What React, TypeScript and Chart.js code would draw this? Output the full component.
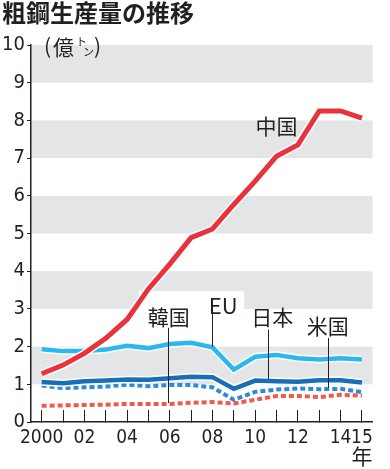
import React, { useEffect, useRef } from "react";
import { Chart, registerables } from "chart.js";
Chart.register(...registerables);

const years = [2000, 2001, 2002, 2003, 2004, 2005, 2006, 2007, 2008, 2009, 2010, 2011, 2012, 2013, 2014, 2015];
const china = [1.28, 1.51, 1.82, 2.22, 2.72, 3.53, 4.19, 4.89, 5.12, 5.77, 6.39, 7.05, 7.35, 8.25, 8.25, 8.06];
const eu = [1.93, 1.88, 1.88, 1.92, 2.02, 1.96, 2.07, 2.10, 1.98, 1.39, 1.73, 1.78, 1.69, 1.66, 1.69, 1.66];
const japan = [1.06, 1.03, 1.08, 1.10, 1.13, 1.12, 1.16, 1.20, 1.19, 0.88, 1.10, 1.08, 1.07, 1.11, 1.11, 1.05];
const usa = [0.97, 0.90, 0.92, 0.94, 0.99, 0.95, 0.98, 0.98, 0.92, 0.59, 0.80, 0.86, 0.89, 0.87, 0.88, 0.79];
const korea = [0.43, 0.44, 0.45, 0.46, 0.48, 0.48, 0.48, 0.51, 0.53, 0.49, 0.59, 0.69, 0.69, 0.66, 0.72, 0.70];
const yTicks = [0, 1, 2, 3, 4, 5, 6, 7, 8, 9, 10];
const bands = [[1, 2], [3, 4], [5, 6], [7, 8], [9, 10]];

const titleText = "粗鋼生産量の推移";
const JP = '"Noto Sans CJK JP", "Noto Sans", sans-serif';
const NUM = '"DejaVu Sans Condensed", "Liberation Sans", sans-serif';

const labels = [
  { text: "中国", x: 2011.0, y: 7.87, lx: null as number | null, top: 0, bottom: 0 },
  { text: "韓国", x: 2005.95, y: 2.8, lx: 2005.9, top: 2.5, bottom: 0.5 },
  { text: "EU", x: 2008.5, y: 3.1, lx: 2008.0, top: 3.0, bottom: 2.0 },
  { text: "日本", x: 2010.8, y: 2.8, lx: 2010.6, top: 2.45, bottom: 1.14 },
  { text: "米国", x: 2013.4, y: 2.58, lx: 2013.4, top: 2.23, bottom: 0.9 },
];

export default function App() {
  const ref = useRef<HTMLCanvasElement>(null);
  useEffect(() => {
    const canvas = ref.current!;
    const bandPlugin = {
      id: "bands",
      beforeDraw(chart: any) {
        const { ctx, chartArea, scales } = chart;
        const xs = scales.x, ys = scales.y;
        ctx.save();
        ctx.fillStyle = "#e4e5e7";
        for (const [a, b] of bands) {
          const y1 = ys.getPixelForValue(b);
          const y2 = ys.getPixelForValue(a);
          ctx.fillRect(chartArea.left, y1, chartArea.right - chartArea.left, y2 - y1);
        }
        ctx.fillStyle = "#ffffff";
        const l = xs.getPixelForValue(5.95) - 30;
        const r = xs.getPixelForValue(8.5) + 21;
        const t = ys.getPixelForValue(3.1) - 14;
        const b = ys.getPixelForValue(3);
        ctx.fillRect(l, t, r - l, b - t);
        ctx.restore();
      },
    };
    const textPlugin = {
      id: "texts",
      afterDraw(chart: any) {
        const { ctx, scales } = chart;
        const xs = scales.x, ys = scales.y;
        ctx.save();
        ctx.fillStyle = "#231f20";
        ctx.font = `bold 24px ${JP}`;
        ctx.textBaseline = "middle";
        ctx.textAlign = "left";
        ctx.fillText(titleText, 2, 13);
        ctx.font = `21px ${JP}`;
        ctx.fillText("(", 44, 46);
        ctx.fillText("億", 53, 47);
        ctx.font = `11px ${JP}`;
        ctx.fillText("ト", 76, 42);
        ctx.fillText("ン", 83, 52);
        ctx.font = `21px ${JP}`;
        ctx.fillText(")", 94, 46);
        ctx.textAlign = "center";
        ctx.fillText("年", xs.getPixelForValue(15), 456);
        for (const lb of labels) {
          const cx = xs.getPixelForValue(lb.x - 2000);
          const cy = ys.getPixelForValue(lb.y);
          ctx.fillStyle = "#231f20";
          ctx.font = lb.text === "EU" ? `22px ${JP}` : `21px ${JP}`;
          ctx.fillText(lb.text, cx, cy + 1);
          if (lb.lx !== null) {
            const lx = Math.round(xs.getPixelForValue(lb.lx - 2000)) + 0.5;
            ctx.strokeStyle = "#231f20";
            ctx.lineWidth = 1;
            ctx.beginPath();
            ctx.moveTo(lx, ys.getPixelForValue(lb.top));
            ctx.lineTo(lx, ys.getPixelForValue(lb.bottom));
            ctx.stroke();
          }
        }
        ctx.restore();
      },
    };
    const base = { pointRadius: 0, tension: 0 };
    const chart = new Chart(canvas, {
      type: "line",
      data: {
        labels: years.map(String),
        datasets: [
          { ...base, data: china, borderColor: "#e8323c", borderWidth: 5, order: 2 },
          { ...base, data: china, borderColor: "#ffffff", borderWidth: 8, order: 3 },
          { ...base, data: eu, borderColor: "#2bb8ec", borderWidth: 4.5, order: 4 },
          { ...base, data: eu, borderColor: "#ffffff", borderWidth: 7.5, order: 5 },
          { ...base, data: japan, borderColor: "#176fb8", borderWidth: 4.5, order: 6 },
          { ...base, data: japan, borderColor: "#ffffff", borderWidth: 7.5, order: 7 },
          { ...base, data: usa, borderColor: "#2e8ad6", borderWidth: 4, borderDash: [5, 3], order: 8 },
          { ...base, data: korea, borderColor: "#f05a4c", borderWidth: 4, borderDash: [5, 3], order: 10 },
        ],
      },
      options: {
        animation: false,
        responsive: false,
        events: [],
        layout: { padding: { top: 45, left: 0, right: 6, bottom: 0 }, autoPadding: false } as any,
        plugins: { legend: { display: false }, tooltip: { enabled: false }, title: { display: false } },
        scales: {
          x: {
            type: "category",
            offset: true,
            grid: { offset: false, drawOnChartArea: false, drawTicks: true, tickLength: -12, color: "#231f20", lineWidth: 1 },
            border: { color: "#231f20", width: 1.5 },
            ticks: {
              autoSkip: false,
              maxRotation: 0,
              padding: 17,
              color: "#231f20",
              font: { family: NUM, size: 19 },
              callback: (_v: any, i: number) => (i === 0 ? "2000" : i % 2 === 0 || i === 15 ? String(years[i]).slice(2) : ""),
            },
            afterFit: (s: any) => { s.height = 47; },
          },
          y: {
            min: 0,
            max: 10,
            grid: { drawOnChartArea: false, drawTicks: true, tickLength: 4, color: "#231f20", lineWidth: 1 },
            border: { color: "#231f20", width: 1.5 },
            ticks: {
              stepSize: 1,
              padding: 2,
              color: "#231f20",
              font: { family: NUM, size: 20 },
              callback: (v: any) => (yTicks.includes(v) ? String(v) : ""),
            },
            afterFit: (s: any) => { s.width = 31; },
          },
        },
      },
      plugins: [bandPlugin, textPlugin],
    });
    return () => chart.destroy();
  }, []);
  return (
    <div style={{ position: "absolute", left: 0, top: 0, width: 390, height: 469, background: "#fff" }}>
      <canvas ref={ref} width={390} height={469} style={{ display: "block" }} />
    </div>
  );
}
